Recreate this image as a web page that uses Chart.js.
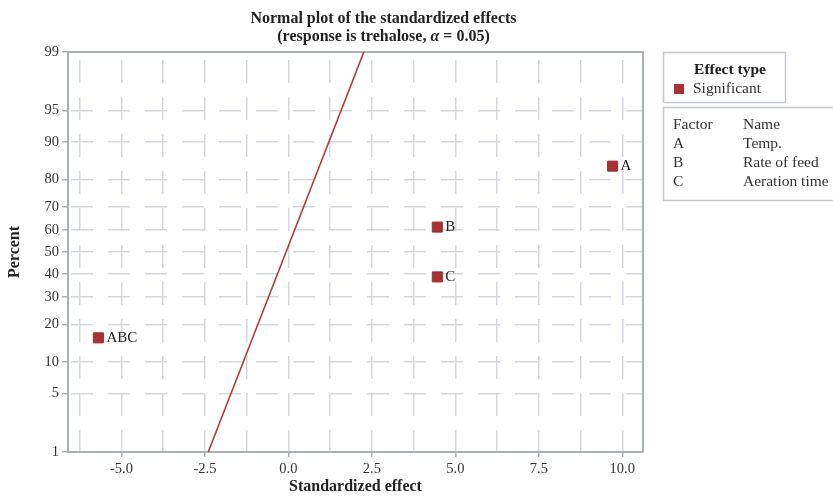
<!DOCTYPE html>
<html>
<head>
<meta charset="utf-8">
<script src="https://cdn.jsdelivr.net/npm/chart.js@4/dist/chart.umd.min.js"></script>
<style>
html,body{margin:0;padding:0;background:#fff;}
#c{display:block;}
</style>
</head>
<body>
<canvas id="c" width="833" height="497"></canvas>
<script>
// ---- data ----
const effectNames = ['A', 'B', 'C', 'ABC'];
const effectValues = [9.71, 4.46, 4.46, -5.69];
const effectPercents = [84.1, 61.4, 38.6, 15.9];
const lineEffects = [-2.40, 2.26];
const linePercents = [1, 99];
const yTickPercents = [1, 5, 10, 20, 30, 40, 50, 60, 70, 80, 90, 95, 99];
const xTickValues = [-6.25, -5, -3.75, -2.5, -1.25, 0, 1.25, 2.5, 3.75, 5, 6.25, 7.5, 8.75, 10];
const factorCodes = ['A', 'B', 'C'];
const factorNames = ['Temp.', 'Rate of feed', 'Aeration time'];
const titleLines = ['Normal plot of the standardized effects', '(response is trehalose, '];
const xTitle = 'Standardized effect';
const yTitle = 'Percent';
const legendTitle = 'Effect type';
const legendItem = 'Significant';

// inverse normal CDF (probability-scale transform)
function probit(p) {
  const a=[-3.969683028665376e+01,2.209460984245205e+02,-2.759285104469687e+02,1.383577518672690e+02,-3.066479806614716e+01,2.506628277459239e+00];
  const b=[-5.447609879822406e+01,1.615858368580409e+02,-1.556989798598866e+02,6.680131188771972e+01,-1.328068155288572e+01];
  const c=[-7.784894002430293e-03,-3.223964580411365e-01,-2.400758277161838e+00,-2.549732539343734e+00,4.374664141464968e+00,2.938163982698783e+00];
  const d=[7.784695709041462e-03,3.224671290700398e-01,2.445134137142996e+00,3.754408661907416e+00];
  const pl=0.02425, ph=1-pl; let q,r;
  if(p<pl){q=Math.sqrt(-2*Math.log(p));return (((((c[0]*q+c[1])*q+c[2])*q+c[3])*q+c[4])*q+c[5])/((((d[0]*q+d[1])*q+d[2])*q+d[3])*q+1);}
  if(p<=ph){q=p-0.5;r=q*q;return (((((a[0]*r+a[1])*r+a[2])*r+a[3])*r+a[4])*r+a[5])*q/(((((b[0]*r+b[1])*r+b[2])*r+b[3])*r+b[4])*r+1);}
  q=Math.sqrt(-2*Math.log(1-p));return -(((((c[0]*q+c[1])*q+c[2])*q+c[3])*q+c[4])*q+c[5])/((((d[0]*q+d[1])*q+d[2])*q+d[3])*q+1);
}
const z = pct => probit(pct / 100);

const SERIF = '"Liberation Serif", "DejaVu Serif", serif';
const RED = '#a83232';
const GRID = '#d3d7df';
const AXIS = '#a9b0ba';
const TXT = '#333333';

const pointData = effectValues.map((v, i) => ({x: v, y: z(effectPercents[i])}));
const lineData = lineEffects.map((v, i) => ({x: v, y: z(linePercents[i])}));

const framePlugin = {
  id: 'frame',
  beforeDatasetsDraw(chart) {
    const {ctx, chartArea: a} = chart;
    ctx.save();
    ctx.strokeStyle = AXIS;
    ctx.lineWidth = 2;
    ctx.beginPath();
    ctx.moveTo(a.left, a.top);
    ctx.lineTo(a.right, a.top);
    ctx.lineTo(a.right, a.bottom);
    ctx.stroke();
    ctx.restore();
  },
  afterDraw(chart) {
    const {ctx, chartArea: a} = chart;
    ctx.save();
    // point labels
    const meta = chart.getDatasetMeta(1);
    ctx.font = '15px ' + SERIF;
    ctx.fillStyle = '#222';
    ctx.textBaseline = 'middle';
    ctx.textAlign = 'left';
    meta.data.forEach((el, i) => {
      ctx.fillText(effectNames[i], el.x + 8, el.y);
    });
    // title
    const cx = (a.left + a.right) / 2 + 28;
    ctx.textAlign = 'center';
    const boldF = 'bold 16px ' + SERIF;
    const itF = 'bold italic 16px ' + SERIF;
    ctx.font = boldF;
    ctx.fillStyle = '#222';
    ctx.fillText(titleLines[0], cx, 19);
    const part1 = titleLines[1];
    const alpha = '\u03b1';
    const part3 = ' = 0.05)';
    ctx.font = boldF; const w1 = ctx.measureText(part1).width; const w3 = ctx.measureText(part3).width;
    ctx.font = itF; const w2 = ctx.measureText(alpha).width;
    let x0 = cx - (w1 + w2 + w3) / 2;
    ctx.textAlign = 'left';
    ctx.font = boldF; ctx.fillText(part1, x0, 37);
    ctx.font = itF; ctx.fillText(alpha, x0 + w1, 37);
    ctx.font = boldF; ctx.fillText(part3, x0 + w1 + w2, 37);

    // legend box 1
    ctx.strokeStyle = '#c3c8d0';
    ctx.lineWidth = 1.5;
    ctx.strokeRect(663.5, 52.5, 122, 50);
    ctx.textAlign = 'center';
    ctx.font = 'bold 15.5px ' + SERIF;
    ctx.fillStyle = '#222';
    ctx.fillText(legendTitle, 730, 70);
    ctx.fillStyle = RED;
    ctx.fillRect(674, 84, 10, 10);
    ctx.textAlign = 'left';
    ctx.font = '15.5px ' + SERIF;
    ctx.fillStyle = TXT;
    ctx.fillText(legendItem, 693, 89);
    // legend box 2
    ctx.strokeRect(663.5, 107.5, 180, 93);
    ctx.fillText('Factor', 673, 125);
    ctx.fillText('Name', 743, 125);
    factorCodes.forEach((f, i) => {
      ctx.fillText(f, 673, 144 + i * 19);
      ctx.fillText(factorNames[i], 743, 144 + i * 19);
    });
    ctx.restore();
  }
};

new Chart(document.getElementById('c'), {
  type: 'scatter',
  data: {
    datasets: [
      {
        data: lineData,
        showLine: true,
        borderColor: '#b23a3a',
        borderWidth: 1.6,
        pointRadius: 0,
        fill: false
      },
      {
        data: pointData,
        pointStyle: 'rect',
        pointRadius: 7.1,
        pointHoverRadius: 7.1,
        backgroundColor: RED,
        borderColor: '#9a2c2c',
        borderWidth: 1
      }
    ]
  },
  options: {
    responsive: false,
    animation: false,
    devicePixelRatio: 1,
    layout: {padding: {left: 0, right: 190, top: 52, bottom: 0}},
    plugins: {legend: {display: false}, tooltip: {enabled: false}, title: {display: false}},
    scales: {
      x: {
        type: 'linear',
        min: -6.6,
        max: 10.62,
        afterBuildTicks: s => { s.ticks = xTickValues.map(v => ({value: v})); },
        afterFit: s => { s.height = 45; },
        ticks: {
          autoSkip: false,
          maxRotation: 0,
          padding: 3,
          color: TXT,
          font: {family: SERIF, size: 14.5},
          callback: v => (Math.abs(v / 2.5 - Math.round(v / 2.5)) < 1e-9 ? v.toFixed(1) : '')
        },
        grid: {
          color: GRID,
          lineWidth: 1.5,
          tickLength: 5,
          tickColor: ctx => (ctx.tick && Math.abs(ctx.tick.value / 2.5 - Math.round(ctx.tick.value / 2.5)) < 1e-9 ? AXIS : 'rgba(0,0,0,0)'),
          tickWidth: 1.5
        },
        border: {display: true, color: AXIS, width: 2, dash: [23, 14], dashOffset: 29},
        title: {
          display: true,
          text: xTitle,
          color: '#222',
          font: {family: SERIF, size: 16, weight: 'bold'},
          padding: {top: 0, bottom: 1}
        }
      },
      y: {
        type: 'linear',
        min: z(1),
        max: z(99),
        afterBuildTicks: s => { s.ticks = yTickPercents.map(p => ({value: z(p)})); },
        afterFit: s => { s.width = 68; },
        ticks: {
          autoSkip: false,
          padding: 3,
          color: TXT,
          font: {family: SERIF, size: 14.5},
          callback: (v, i) => String(yTickPercents[i])
        },
        grid: {
          color: ctx => (ctx.index === 0 || ctx.index === yTickPercents.length - 1 ? 'rgba(0,0,0,0)' : GRID),
          lineWidth: 1.5,
          tickLength: 6,
          tickColor: AXIS,
          tickWidth: 1.5
        },
        border: {display: true, color: AXIS, width: 2, dash: [22, 15], dashOffset: -2},
        title: {
          display: true,
          text: yTitle,
          color: '#222',
          font: {family: SERIF, size: 16, weight: 'bold'},
          padding: {top: 5, bottom: 0}
        }
      }
    }
  },
  plugins: [framePlugin]
});
</script>
</body>
</html>
